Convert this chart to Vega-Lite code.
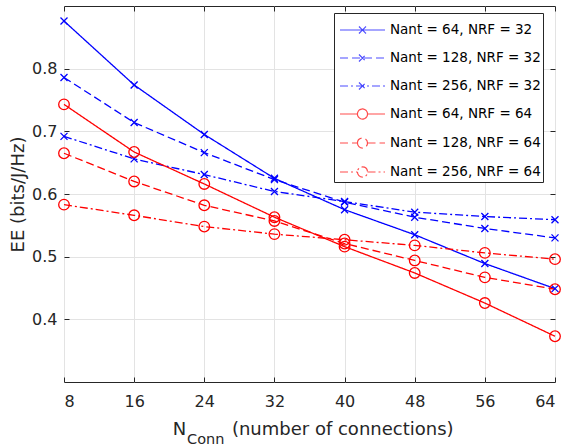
{
"$schema": "https://vega.github.io/schema/vega-lite/v6.json",
"width": 491, "height": 376,
"autosize": "none",
"padding": {"left": 64, "top": 6, "right": 9, "bottom": 65},
"background": "white",
"config": {
  "font": "DejaVu Sans",
  "view": {"stroke": "#262626", "strokeWidth": 1},
  "axis": {"domain": false, "tickColor": "#262626", "labelColor": "#262626", "titleColor": "#262626", "gridColor": "#e3e3e3", "gridWidth": 1, "labelFont": "DejaVu Sans", "titleFont": "DejaVu Sans", "labelFontSize": 16, "titleFontSize": 18, "titleFontWeight": "normal", "tickSize": -5, "tickWidth": 1},
  "legend": {"orient": "none", "legendX": 270, "legendY": 7, "padding": 2, "rowPadding": 6, "strokeColor": "#262626", "fillColor": "white", "labelFontSize": 13.5, "labelFont": "DejaVu Sans", "labelColor": "#000000", "labelOffset": 24, "symbolSize": 784, "symbolStrokeWidth": 1.2, "labelLimit": 400, "cornerRadius": 0, "strokeWidth": 1, "symbolFillColor": "transparent"}
},
"data": {"values": [
{"series": "Nant = 64, NRF = 32", "rf": 32, "x": 8, "y": 0.876},
{"series": "Nant = 64, NRF = 32", "rf": 32, "x": 16, "y": 0.774},
{"series": "Nant = 64, NRF = 32", "rf": 32, "x": 24, "y": 0.695},
{"series": "Nant = 64, NRF = 32", "rf": 32, "x": 32, "y": 0.625},
{"series": "Nant = 64, NRF = 32", "rf": 32, "x": 40, "y": 0.575},
{"series": "Nant = 64, NRF = 32", "rf": 32, "x": 48, "y": 0.535},
{"series": "Nant = 64, NRF = 32", "rf": 32, "x": 56, "y": 0.489},
{"series": "Nant = 64, NRF = 32", "rf": 32, "x": 64, "y": 0.449},
{"series": "Nant = 128, NRF = 32", "rf": 32, "x": 8, "y": 0.786},
{"series": "Nant = 128, NRF = 32", "rf": 32, "x": 16, "y": 0.714},
{"series": "Nant = 128, NRF = 32", "rf": 32, "x": 24, "y": 0.666},
{"series": "Nant = 128, NRF = 32", "rf": 32, "x": 32, "y": 0.623},
{"series": "Nant = 128, NRF = 32", "rf": 32, "x": 40, "y": 0.587},
{"series": "Nant = 128, NRF = 32", "rf": 32, "x": 48, "y": 0.563},
{"series": "Nant = 128, NRF = 32", "rf": 32, "x": 56, "y": 0.545},
{"series": "Nant = 128, NRF = 32", "rf": 32, "x": 64, "y": 0.530},
{"series": "Nant = 256, NRF = 32", "rf": 32, "x": 8, "y": 0.692},
{"series": "Nant = 256, NRF = 32", "rf": 32, "x": 16, "y": 0.656},
{"series": "Nant = 256, NRF = 32", "rf": 32, "x": 24, "y": 0.631},
{"series": "Nant = 256, NRF = 32", "rf": 32, "x": 32, "y": 0.604},
{"series": "Nant = 256, NRF = 32", "rf": 32, "x": 40, "y": 0.588},
{"series": "Nant = 256, NRF = 32", "rf": 32, "x": 48, "y": 0.571},
{"series": "Nant = 256, NRF = 32", "rf": 32, "x": 56, "y": 0.564},
{"series": "Nant = 256, NRF = 32", "rf": 32, "x": 64, "y": 0.559},
{"series": "Nant = 64, NRF = 64", "rf": 64, "x": 8, "y": 0.743},
{"series": "Nant = 64, NRF = 64", "rf": 64, "x": 16, "y": 0.667},
{"series": "Nant = 64, NRF = 64", "rf": 64, "x": 24, "y": 0.616},
{"series": "Nant = 64, NRF = 64", "rf": 64, "x": 32, "y": 0.563},
{"series": "Nant = 64, NRF = 64", "rf": 64, "x": 40, "y": 0.516},
{"series": "Nant = 64, NRF = 64", "rf": 64, "x": 48, "y": 0.474},
{"series": "Nant = 64, NRF = 64", "rf": 64, "x": 56, "y": 0.426},
{"series": "Nant = 64, NRF = 64", "rf": 64, "x": 64, "y": 0.373},
{"series": "Nant = 128, NRF = 64", "rf": 64, "x": 8, "y": 0.665},
{"series": "Nant = 128, NRF = 64", "rf": 64, "x": 16, "y": 0.620},
{"series": "Nant = 128, NRF = 64", "rf": 64, "x": 24, "y": 0.582},
{"series": "Nant = 128, NRF = 64", "rf": 64, "x": 32, "y": 0.557},
{"series": "Nant = 128, NRF = 64", "rf": 64, "x": 40, "y": 0.521},
{"series": "Nant = 128, NRF = 64", "rf": 64, "x": 48, "y": 0.494},
{"series": "Nant = 128, NRF = 64", "rf": 64, "x": 56, "y": 0.467},
{"series": "Nant = 128, NRF = 64", "rf": 64, "x": 64, "y": 0.448},
{"series": "Nant = 256, NRF = 64", "rf": 64, "x": 8, "y": 0.583},
{"series": "Nant = 256, NRF = 64", "rf": 64, "x": 16, "y": 0.566},
{"series": "Nant = 256, NRF = 64", "rf": 64, "x": 24, "y": 0.548},
{"series": "Nant = 256, NRF = 64", "rf": 64, "x": 32, "y": 0.536},
{"series": "Nant = 256, NRF = 64", "rf": 64, "x": 40, "y": 0.527},
{"series": "Nant = 256, NRF = 64", "rf": 64, "x": 48, "y": 0.518},
{"series": "Nant = 256, NRF = 64", "rf": 64, "x": 56, "y": 0.506},
{"series": "Nant = 256, NRF = 64", "rf": 64, "x": 64, "y": 0.496}
]},
"resolve": {"axis": {"x": "independent", "y": "independent"}},
"layer": [
{
  "transform": [{"filter": "datum.x < 0"}],
  "mark": {"type": "point", "filled": false, "strokeWidth": 1.2},
  "encoding": {
    "x": {"field": "x", "type": "quantitative", "scale": {"domain": [8, 64], "nice": false, "zero": false}, "axis": {"orient": "top", "labels": false, "grid": false, "title": null, "values": [8, 16, 24, 32, 40, 48, 56, 64]}},
    "y": {"field": "y", "type": "quantitative", "scale": {"domain": [0.3, 0.9], "nice": false, "zero": false}, "axis": {"orient": "right", "labels": false, "grid": false, "title": null, "values": [0.4, 0.5, 0.6, 0.7, 0.8]}},
    "color": {"field": "series", "type": "nominal", "scale": {"domain": ["Nant = 64, NRF = 32", "Nant = 128, NRF = 32", "Nant = 256, NRF = 32", "Nant = 64, NRF = 64", "Nant = 128, NRF = 64", "Nant = 256, NRF = 64"], "range": ["#0000ff", "#0000ff", "#0000ff", "#ff0000", "#ff0000", "#ff0000"]}, "legend": {"title": null, "orient": "none"}},
    "strokeDash": {"field": "series", "type": "nominal", "scale": {"domain": ["Nant = 64, NRF = 32", "Nant = 128, NRF = 32", "Nant = 256, NRF = 32", "Nant = 64, NRF = 64", "Nant = 128, NRF = 64", "Nant = 256, NRF = 64"], "range": [[1, 0], [8, 4], [8, 3, 2, 3], [1, 0], [8, 4], [8, 3, 2, 3]]}, "legend": {"title": null, "orient": "none"}},
    "shape": {"field": "series", "type": "nominal", "scale": {"domain": ["Nant = 64, NRF = 32", "Nant = 128, NRF = 32", "Nant = 256, NRF = 32", "Nant = 64, NRF = 64", "Nant = 128, NRF = 64", "Nant = 256, NRF = 64"], "range": [
      "M-0.786,0L2.43,0M0.57,-0.25L1.07,0.25M0.57,0.25L1.07,-0.25",
      "M-0.786,0L2.43,0M0.57,-0.25L1.07,0.25M0.57,0.25L1.07,-0.25",
      "M-0.786,0L2.43,0M0.57,-0.25L1.07,0.25M0.57,0.25L1.07,-0.25",
      "M-0.786,0L0.46,0M1.18,0L2.43,0M0.46,0A0.36,0.36 0 1,0 1.18,0A0.36,0.36 0 1,0 0.46,0",
      "M-0.786,0L0.46,0M1.18,0L2.43,0M0.46,0A0.36,0.36 0 1,0 1.18,0A0.36,0.36 0 1,0 0.46,0",
      "M-0.786,0L0.46,0M1.18,0L2.43,0M0.46,0A0.36,0.36 0 1,0 1.18,0A0.36,0.36 0 1,0 0.46,0"
    ]}, "legend": {"title": null, "orient": "none"}}
  }
},
{
  "mark": {"type": "line", "strokeWidth": 1.3},
  "encoding": {
    "x": {"field": "x", "type": "quantitative",
      "axis": {"orient": "bottom", "values": [8, 16, 24, 32, 40, 48, 56, 64], "grid": true, "labelPadding": 16, "title": "N", "titleX": 108.3, "titleY": 52, "titleAlign": "left", "titleBaseline": "alphabetic", "titleAngle": 0, "titleFontSize": 18}},
    "y": {"field": "y", "type": "quantitative",
      "axis": {"orient": "left", "values": [0.4, 0.5, 0.6, 0.7, 0.8], "format": ".1f", "grid": true, "labelPadding": 12, "title": "EE (bits/J/Hz)", "titleX": -40.5, "titleY": 188, "titleAngle": -90, "titleAlign": "center", "titleBaseline": "alphabetic", "titleFontSize": 18}},
    "color": {"field": "series", "type": "nominal", "legend": null},
    "strokeDash": {"field": "series", "type": "nominal", "legend": null}
  }
},
{
  "transform": [{"filter": "datum.rf == 32"}],
  "mark": {"type": "point", "filled": false, "shape": "M-1,-1L1,1M-1,1L1,-1", "size": 49, "strokeWidth": 1.3, "opacity": 1, "color": "#0000ff"},
  "encoding": {
    "x": {"field": "x", "type": "quantitative", "axis": {"orient": "bottom", "labels": false, "ticks": false, "grid": false, "title": "Conn", "titleX": 122.6, "titleY": 61, "titleAlign": "left", "titleBaseline": "alphabetic", "titleAngle": 0, "titleFontSize": 14.5}},
    "y": {"field": "y", "type": "quantitative", "axis": null}
  }
},
{
  "transform": [{"filter": "datum.rf == 64"}],
  "mark": {"type": "point", "filled": false, "shape": "circle", "size": 112, "strokeWidth": 1.3, "opacity": 1, "color": "#ff0000"},
  "encoding": {
    "x": {"field": "x", "type": "quantitative", "axis": {"orient": "bottom", "labels": false, "ticks": false, "grid": false, "title": "(number of connections)", "titleX": 167.4, "titleY": 52, "titleAlign": "left", "titleBaseline": "alphabetic", "titleAngle": 0, "titleFontSize": 18}},
    "y": {"field": "y", "type": "quantitative", "axis": null}
  }
}
]
}
